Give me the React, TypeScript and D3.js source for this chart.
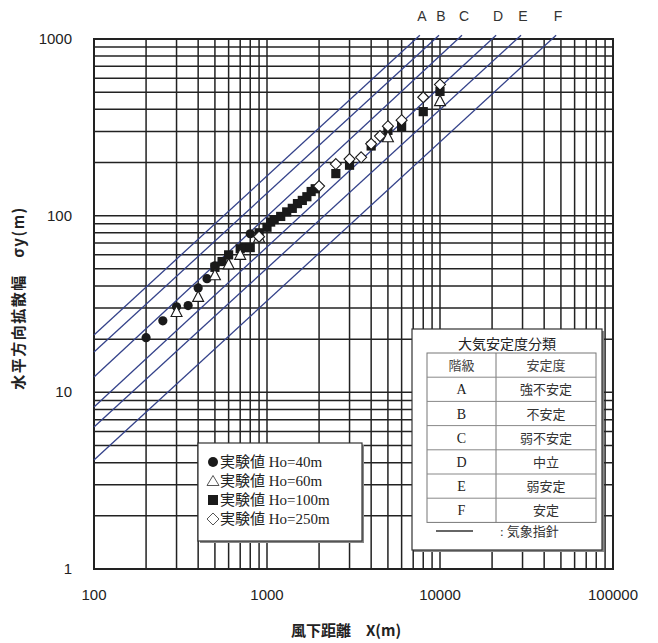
import * as d3 from "d3";
import React from "react";

// 大気安定度 lines (気象指針): start at x=100, end where σy reaches ~1050
const classes = ["A", "B", "C", "D", "E", "F"];
const lineStartY = [21.1, 16.9, 12.2, 8.27, 6.37, 4.14];
const lineEndX = [7650, 9870, 13400, 21100, 29400, 46900];
const lineEndY = 1050;

const stability = ["強不安定", "不安定", "弱不安定", "中立", "弱安定", "安定"];

// 実験値
const ho40: [number, number][] = [
  [200, 20.4], [250, 25.4], [300, 30.5], [350, 31], [400, 39], [450, 44],
  [500, 52], [800, 79], [3000, 200]
];
const ho60: [number, number][] = [
  [300, 28.5], [400, 34.7], [500, 46], [600, 53], [700, 60], [900, 75],
  [5000, 278], [10000, 445]
];
const ho100: [number, number][] = [
  [500, 51], [550, 55], [600, 60], [700, 65], [750, 66], [800, 66],
  [900, 80], [1000, 86], [1050, 92], [1100, 95], [1200, 99], [1300, 105],
  [1400, 110], [1500, 117], [1600, 122], [1700, 128], [1800, 137],
  [1900, 142], [2500, 173], [3000, 193], [4000, 248], [5000, 304],
  [6000, 319], [8000, 388], [10000, 505]
];
const ho250: [number, number][] = [
  [900, 76], [2000, 147], [2500, 196], [3000, 209], [3500, 214],
  [4000, 255], [4500, 282], [5000, 321], [6000, 347], [8000, 468],
  [10000, 552]
];

const xTicks = [100, 1000, 10000, 100000];
const yTicks = [1, 10, 100, 1000];

const W = 658;
const H = 643;
const left = 94, right = 613, top = 39, bottom = 569;
const blue = "#34428a";
const gridColor = "#222";

function logGrid(min: number, max: number) {
  const out: number[] = [];
  for (let p = min; p < max; p *= 10) {
    for (let k = 1; k < 10; k++) out.push(p * k);
  }
  out.push(max);
  return out;
}

export default function App() {
  const x = d3.scaleLog().domain([100, 100000]).range([left, right]);
  const y = d3.scaleLog().domain([1, 1000]).range([bottom, top]);

  const line = d3
    .line<[number, number]>()
    .x(d => x(d[0]))
    .y(d => y(d[1]));

  const sans = "'Liberation Sans', Arial, sans-serif";
  const cjkBold = "'Noto Sans CJK JP', sans-serif";
  const mincho = "'Liberation Serif', 'Noto Sans CJK JP', serif";

  const circle = (d: [number, number], i: number) => (
    <circle key={"c" + i} cx={x(d[0])} cy={y(d[1])} r={4.6} fill="#1a1a1a" />
  );
  const square = (d: [number, number], i: number) => (
    <rect key={"s" + i} x={x(d[0]) - 4.6} y={y(d[1]) - 4.6} width={9.2} height={9.2} fill="#1a1a1a" />
  );
  const triangle = (d: [number, number], i: number) => {
    const cx = x(d[0]), cy = y(d[1]);
    return (
      <path key={"t" + i}
        d={`M${cx},${cy - 6}L${cx + 5.5},${cy + 4.5}L${cx - 5.5},${cy + 4.5}Z`}
        fill="#fff" stroke="#1a1a1a" strokeWidth={1.1} />
    );
  };
  const diamond = (d: [number, number], i: number) => {
    const cx = x(d[0]), cy = y(d[1]);
    return (
      <path key={"d" + i}
        d={`M${cx},${cy - 5.5}L${cx + 5.5},${cy}L${cx},${cy + 5.5}L${cx - 5.5},${cy}Z`}
        fill="#fff" stroke="#1a1a1a" strokeWidth={1.1} />
    );
  };

  // legend table geometry
  const tL = 427, tR = 596, tMid = 496, tTop = 353, rowH = 24.2;

  return (
    <svg width={W} height={H} style={{ position: "absolute", left: 0, top: 0, background: "#fff" }}>
      <rect width={W} height={H} fill="#fff" />

      {/* grid */}
      {logGrid(100, 100000).map((v, i) => (
        <line key={"vx" + i} x1={x(v)} x2={x(v)} y1={top} y2={bottom} stroke={gridColor} strokeWidth={1.5} />
      ))}
      {logGrid(1, 1000).map((v, i) => (
        <line key={"hy" + i} x1={left} x2={right} y1={y(v)} y2={y(v)} stroke={gridColor} strokeWidth={1.5} />
      ))}
      <rect x={left} y={top} width={right - left} height={bottom - top} fill="none" stroke={gridColor} strokeWidth={2} />

      {/* stability class lines */}
      {classes.map((c, i) => {
        const pts: [number, number][] = [[100, lineStartY[i]], [lineEndX[i], lineEndY]];
        return <path key={c} d={line(pts) || ""} stroke={blue} strokeWidth={1.3} fill="none" />;
      })}
      {classes.map((c, i) => (
        <text key={"lab" + c} x={x(lineEndX[i]) + 2} y={21} fontFamily={sans} fontSize={14}
          textAnchor="middle" fill="#333">{c}</text>
      ))}

      {/* data */}
      {ho40.map(circle)}
      {ho100.map(square)}
      {ho60.map(triangle)}
      {ho250.map(diamond)}

      {/* tick labels */}
      {xTicks.map(v => (
        <text key={"xt" + v} x={x(v)} y={600} fontFamily={sans} fontSize={15} textAnchor="middle" fill="#222">{v}</text>
      ))}
      {yTicks.map(v => (
        <text key={"yt" + v} x={72} y={y(v) + 5} fontFamily={sans} fontSize={15} textAnchor="end" fill="#222">{v}</text>
      ))}

      {/* axis titles */}
      <text x={346} y={636} fontFamily={cjkBold} fontWeight="bold" fontSize={15} textAnchor="middle" fill="#222">
        風下距離　X(m)
      </text>
      <text transform="translate(24,298) rotate(-90)" fontFamily={cjkBold} fontWeight="bold" fontSize={15}
        letterSpacing={1.5} textAnchor="middle" fill="#222">
        水平方向拡散幅　σy(m)
      </text>

      {/* marker legend */}
      <rect x={200} y={445} width={164} height={98} fill="#888" />
      <rect x={198} y={443} width={164} height={98} fill="#fff" stroke="#333" strokeWidth={1.2} />
      {[
        { label: "実験値 Ho=40m", kind: "c" },
        { label: "実験値 Ho=60m", kind: "t" },
        { label: "実験値 Ho=100m", kind: "s" },
        { label: "実験値 Ho=250m", kind: "d" }
      ].map((e, i) => {
        const cy = 462 + i * 19;
        const mx = 213;
        let mark;
        if (e.kind === "c") mark = <circle cx={mx} cy={cy} r={5} fill="#1a1a1a" />;
        else if (e.kind === "s") mark = <rect x={mx - 5} y={cy - 5} width={10} height={10} fill="#1a1a1a" />;
        else if (e.kind === "t")
          mark = <path d={`M${mx},${cy - 5.5}L${mx + 6},${cy + 4.5}L${mx - 6},${cy + 4.5}Z`} fill="#fff" stroke="#555" strokeWidth={1} />;
        else
          mark = <path d={`M${mx},${cy - 6}L${mx + 6},${cy}L${mx},${cy + 6}L${mx - 6},${cy}Z`} fill="#fff" stroke="#555" strokeWidth={1} />;
        return (
          <g key={e.label}>
            {mark}
            <text x={220} y={cy + 5} fontFamily={mincho} fontSize={15} fill="#222">{e.label}</text>
          </g>
        );
      })}

      {/* stability table legend */}
      <rect x={414} y={331} width={190} height={221} fill="#888" />
      <rect x={412} y={329} width={190} height={221} fill="#fff" stroke="#333" strokeWidth={1.2} />
      <text x={507} y={349} fontFamily={mincho} fontSize={14} textAnchor="middle" fill="#222">大気安定度分類</text>
      <rect x={tL} y={tTop} width={tR - tL} height={rowH * 7} fill="none" stroke="#777" strokeWidth={1} />
      <line x1={tMid} x2={tMid} y1={tTop} y2={tTop + rowH * 7} stroke="#777" strokeWidth={1} />
      {d3.range(1, 7).map(k => (
        <line key={"row" + k} x1={tL} x2={tR} y1={tTop + rowH * k} y2={tTop + rowH * k} stroke="#888" strokeWidth={1} />
      ))}
      <text x={(tL + tMid) / 2} y={tTop + rowH / 2 + 5} fontFamily={mincho} fontSize={13} textAnchor="middle" fill="#444">階級</text>
      <text x={(tMid + tR) / 2} y={tTop + rowH / 2 + 5} fontFamily={mincho} fontSize={13} textAnchor="middle" fill="#444">安定度</text>
      {classes.map((c, i) => (
        <g key={"row-" + c}>
          <text x={(tL + tMid) / 2} y={tTop + rowH * (i + 1.5) + 5} fontFamily={mincho} fontSize={14}
            textAnchor="middle" fill="#222">{c}</text>
          <text x={(tMid + tR) / 2} y={tTop + rowH * (i + 1.5) + 5} fontFamily={mincho} fontSize={13}
            textAnchor="middle" fill="#333">{stability[i]}</text>
        </g>
      ))}
      <line x1={436} x2={473} y1={531} y2={531} stroke="#333" strokeWidth={1.3} />
      <text x={500} y={536} fontFamily={mincho} fontSize={13} fill="#333">: 気象指針</text>
    </svg>
  );
}
